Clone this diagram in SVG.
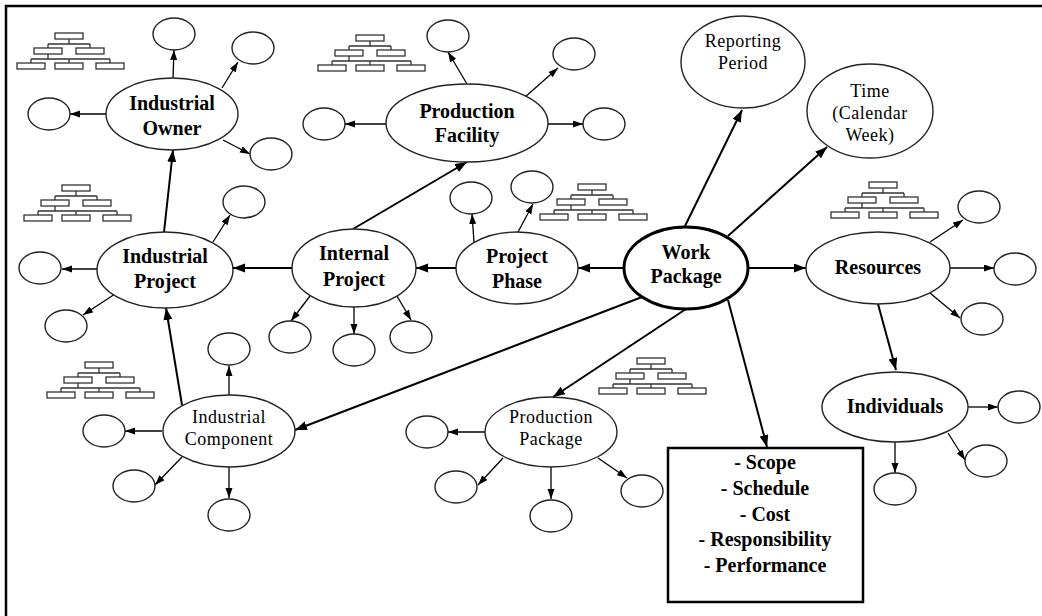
<svg xmlns="http://www.w3.org/2000/svg" xmlns:xlink="http://www.w3.org/1999/xlink" width="1042" height="616" viewBox="0 0 1042 616">
<style>
.n{fill:#fff;stroke:#222;stroke-width:1.4}
.s{fill:#fff;stroke:#222;stroke-width:1.4}
.b{font-family:"Liberation Serif","Times New Roman",serif;font-weight:bold;font-size:20px;text-anchor:middle;fill:#000}
.r{font-family:"Liberation Serif","Times New Roman",serif;font-size:18px;letter-spacing:0.5px;text-anchor:middle;fill:#000}
.tk{stroke:#000;stroke-width:2;fill:none;marker-end:url(#ak)}
.tn{stroke:#000;stroke-width:1.3;fill:none;marker-end:url(#an)}
.ob{fill:#fff;stroke:#333;stroke-width:1.3}
.ol{stroke:#333;stroke-width:1.3;fill:none}
</style>
<defs>
<marker id="ak" markerUnits="userSpaceOnUse" markerWidth="13" markerHeight="10" refX="12" refY="4.5" orient="auto"><path d="M0,0 L12,4.5 L0,9 z" fill="#000"/></marker>
<marker id="an" markerUnits="userSpaceOnUse" markerWidth="11" markerHeight="8" refX="10" refY="3.5" orient="auto"><path d="M0,0 L10,3.5 L0,7 z" fill="#000"/></marker>
<g id="org">
<path class="ol" d="M52,6 V11 M31,11 H73 M31,11 V15 M73,11 V15 M31,21 V26 M14,26 H93 M14,26 V30 M52,26 V30 M93,26 V30"/>
<rect class="ob" x="38" y="0" width="28" height="6"/>
<rect class="ob" x="17" y="15" width="28" height="6"/>
<rect class="ob" x="59" y="15" width="28" height="6"/>
<rect class="ob" x="0" y="30" width="28" height="6"/>
<rect class="ob" x="38" y="30" width="28" height="6"/>
<rect class="ob" x="79" y="30" width="28" height="6"/>
</g>
</defs>
<rect x="0" y="0" width="1042" height="616" fill="#fff"/>
<rect x="6" y="6" width="1100" height="700" fill="none" stroke="#000" stroke-width="2.5"/>

<g id="icons">
<use xlink:href="#org" x="17" y="33"/>
<use xlink:href="#org" x="318" y="35"/>
<use xlink:href="#org" x="24" y="185"/>
<use xlink:href="#org" x="540" y="184"/>
<use xlink:href="#org" x="831" y="182"/>
<use xlink:href="#org" x="47" y="362"/>
<use xlink:href="#org" x="599" y="358"/>
</g>

<g id="connectors">
<path class="tk" d="M685,226 L742,110"/>
<path class="tk" d="M728,236 L827,147"/>
<path class="tk" d="M748,268 L806,268"/>
<path class="tk" d="M624,268 L578,268"/>
<path class="tk" d="M456,268 L416,268"/>
<path class="tk" d="M292,268 L233,268"/>
<path class="tk" d="M353,229 L467,162"/>
<path class="tk" d="M164,232 L173,150"/>
<path class="tk" d="M182,405 L166,308"/>
<path class="tk" d="M642,297 L295,430"/>
<path class="tk" d="M686,309 L553,397"/>
<path class="tk" d="M728,300 L767,447"/>
<path class="tk" d="M878,304 L896,370"/>

<path class="tn" d="M173,78 L174,50"/>
<path class="tn" d="M222,88 L238,62"/>
<path class="tn" d="M106,114 L70,114"/>
<path class="tn" d="M223,140 L250,154"/>

<path class="tn" d="M467,84 L448,52"/>
<path class="tn" d="M525,97 L558,68"/>
<path class="tn" d="M386,124 L345,124"/>
<path class="tn" d="M548,124 L583,124"/>

<path class="tn" d="M213,242 L230,215"/>
<path class="tn" d="M97,269 L62,269"/>
<path class="tn" d="M115,294 L83,315"/>

<path class="tn" d="M310,296 L291,321"/>
<path class="tn" d="M354,307 L354,334"/>
<path class="tn" d="M397,296 L411,320"/>

<path class="tn" d="M474,242 L472,214"/>
<path class="tn" d="M518,232 L533,204"/>

<path class="tn" d="M930,242 L963,220"/>
<path class="tn" d="M950,268 L994,268"/>
<path class="tn" d="M930,293 L960,318"/>

<path class="tn" d="M968,407 L998,407"/>
<path class="tn" d="M948,433 L965,460"/>
<path class="tn" d="M895,442 L895,473"/>

<path class="tn" d="M229,396 L229,366"/>
<path class="tn" d="M162,431 L125,431"/>
<path class="tn" d="M182,457 L155,485"/>
<path class="tn" d="M229,467 L229,498"/>

<path class="tn" d="M485,432 L448,432"/>
<path class="tn" d="M503,458 L478,485"/>
<path class="tn" d="M551,467 L551,499"/>
<path class="tn" d="M598,458 L627,478"/>
</g>

<g id="industrial-owner"><ellipse class="n" cx="172" cy="114" rx="66" ry="36"/><text class="b" x="172" y="110">Industrial</text><text class="b" x="172" y="135">Owner</text></g>
<g id="production-facility"><ellipse class="n" cx="467" cy="123" rx="81" ry="39"/><text class="b" x="467" y="118">Production</text><text class="b" x="467" y="142">Facility</text></g>
<g id="reporting-period"><ellipse class="n" cx="743" cy="62" rx="62" ry="46"/><text class="r" x="743" y="47">Reporting</text><text class="r" x="743" y="69">Period</text></g>
<g id="time"><ellipse class="n" cx="870" cy="111" rx="63" ry="47"/><text class="r" x="870" y="97">Time</text><text class="r" x="870" y="119">(Calendar</text><text class="r" x="870" y="141">Week)</text></g>
<g id="industrial-project"><ellipse class="n" cx="165" cy="270" rx="68" ry="38"/><text class="b" x="165" y="263">Industrial</text><text class="b" x="165" y="288">Project</text></g>
<g id="internal-project"><ellipse class="n" cx="354" cy="268" rx="62" ry="39"/><text class="b" x="354" y="260">Internal</text><text class="b" x="354" y="286">Project</text></g>
<g id="project-phase"><ellipse class="n" cx="517" cy="268" rx="61" ry="36"/><text class="b" x="517" y="263">Project</text><text class="b" x="517" y="288">Phase</text></g>
<g id="work-package"><ellipse cx="686" cy="268" rx="62" ry="41" fill="#fff" stroke="#000" stroke-width="3"/><text class="b" x="686" y="259">Work</text><text class="b" x="686" y="283">Package</text></g>
<g id="resources"><ellipse class="n" cx="878" cy="268" rx="72" ry="36"/><text class="b" x="878" y="274">Resources</text></g>
<g id="individuals"><ellipse class="n" cx="895" cy="407" rx="73" ry="35"/><text class="b" x="895" y="413">Individuals</text></g>
<g id="industrial-component"><ellipse class="n" cx="229" cy="431" rx="66" ry="36"/><text class="r" x="229" y="423">Industrial</text><text class="r" x="229" y="445">Component</text></g>
<g id="production-package"><ellipse class="n" cx="551" cy="432" rx="66" ry="35"/><text class="r" x="551" y="423">Production</text><text class="r" x="551" y="445">Package</text></g>
<g id="attributes"><rect x="668" y="448" width="195" height="154" fill="#fff" stroke="#000" stroke-width="2.5"/>
<text class="b" x="765" y="469">- Scope</text><text class="b" x="765" y="495">- Schedule</text><text class="b" x="765" y="521">- Cost</text><text class="b" x="765" y="546">- Responsibility</text><text class="b" x="765" y="572">- Performance</text></g>

<g id="io-c1"><ellipse class="s" cx="174" cy="34" rx="21" ry="16"/></g>
<g id="io-c2"><ellipse class="s" cx="253" cy="48" rx="21" ry="16"/></g>
<g id="io-c3"><ellipse class="s" cx="49" cy="114" rx="21" ry="16"/></g>
<g id="io-c4"><ellipse class="s" cx="271" cy="154" rx="21" ry="16"/></g>
<g id="pf-c1"><ellipse class="s" cx="448" cy="36" rx="21" ry="16"/></g>
<g id="pf-c2"><ellipse class="s" cx="574" cy="54" rx="21" ry="16"/></g>
<g id="pf-c3"><ellipse class="s" cx="324" cy="124" rx="21" ry="16"/></g>
<g id="pf-c4"><ellipse class="s" cx="604" cy="124" rx="21" ry="16"/></g>
<g id="ip-c1"><ellipse class="s" cx="244" cy="202" rx="21" ry="16"/></g>
<g id="ip-c2"><ellipse class="s" cx="40" cy="268" rx="21" ry="16"/></g>
<g id="ip-c3"><ellipse class="s" cx="66" cy="326" rx="21" ry="16"/></g>
<g id="int-c1"><ellipse class="s" cx="290" cy="337" rx="21" ry="16"/></g>
<g id="int-c2"><ellipse class="s" cx="354" cy="350" rx="21" ry="16"/></g>
<g id="int-c3"><ellipse class="s" cx="411" cy="337" rx="21" ry="16"/></g>
<g id="pp-c1"><ellipse class="s" cx="471" cy="198" rx="21" ry="16"/></g>
<g id="pp-c2"><ellipse class="s" cx="532" cy="187" rx="21" ry="16"/></g>
<g id="res-c1"><ellipse class="s" cx="979" cy="207" rx="21" ry="16"/></g>
<g id="res-c2"><ellipse class="s" cx="1015" cy="269" rx="21" ry="16"/></g>
<g id="res-c3"><ellipse class="s" cx="982" cy="319" rx="21" ry="16"/></g>
<g id="ind-c1"><ellipse class="s" cx="1019" cy="407" rx="21" ry="16"/></g>
<g id="ind-c2"><ellipse class="s" cx="986" cy="461" rx="21" ry="16"/></g>
<g id="ind-c3"><ellipse class="s" cx="895" cy="489" rx="21" ry="16"/></g>
<g id="ic-c1"><ellipse class="s" cx="229" cy="349" rx="21" ry="16"/></g>
<g id="ic-c2"><ellipse class="s" cx="104" cy="431" rx="21" ry="16"/></g>
<g id="ic-c3"><ellipse class="s" cx="134" cy="486" rx="21" ry="16"/></g>
<g id="ic-c4"><ellipse class="s" cx="229" cy="515" rx="21" ry="16"/></g>
<g id="prp-c1"><ellipse class="s" cx="427" cy="432" rx="21" ry="16"/></g>
<g id="prp-c2"><ellipse class="s" cx="456" cy="487" rx="21" ry="16"/></g>
<g id="prp-c3"><ellipse class="s" cx="551" cy="516" rx="21" ry="16"/></g>
<g id="prp-c4"><ellipse class="s" cx="642" cy="491" rx="21" ry="16"/></g>
</svg>
